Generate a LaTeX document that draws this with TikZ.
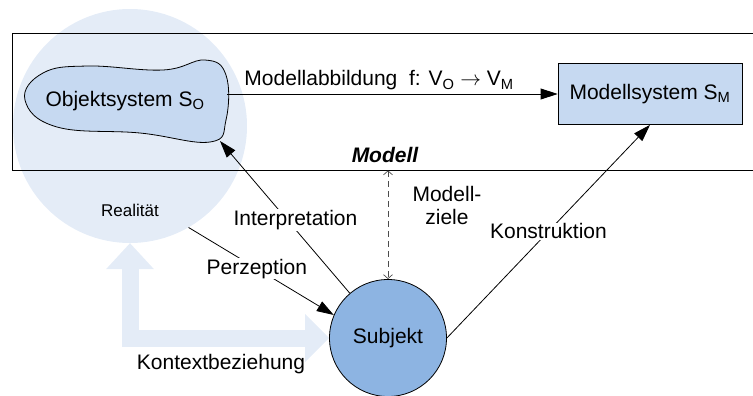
\documentclass[tikz,border=0pt]{standalone}
\usepackage{fontspec}
\setmainfont{Liberation Sans}
\usetikzlibrary{arrows.meta}
\definecolor{realblue}{RGB}{228,236,247}
\definecolor{sysblue}{RGB}{198,217,241}
\definecolor{subjblue}{RGB}{141,180,226}
\newcommand{\gross}{\fontsize{21}{23}\selectfont}

\begin{document}
\begin{tikzpicture}[x=1pt,y=-1pt,every node/.style={font=\gross},
  lbl/.style={fill=white,inner sep=1pt},
  pfeil/.style={-{Triangle[length=17pt,width=11pt]},line width=0.8pt}]
   \useasboundingbox (0,0) rectangle (753,396);
   \clip (0,0) rectangle (753,396);
   % Realitaet
   \node[circle,fill=realblue,minimum size=234pt,inner sep=0pt] (realitaet) at (130,126) {};
   \node[font=\fontsize{17}{20}\selectfont] (realtext) at (130,210) {Realität};
   % Modell
   \node[draw,line width=0.8pt,minimum width=750pt,minimum height=137pt,inner sep=0pt] (modell) at (387,101.5) {};
   \node[font=\gross\bfseries\itshape] (modelltext) at (385,155) {Modell};
   \node[circle,draw,fill=subjblue,line width=0.8pt,minimum size=117pt,inner sep=0pt] (subjekt) at (388,338) {Subjekt};
   % Kontextbeziehung
   \draw[realblue,line width=17pt,{Triangle[length=26pt,width=48pt,line width=0pt]}-{Triangle[length=24pt,width=48pt,line width=0pt]}] (realitaet.south) |- (subjekt.west);
   \node (kontext) at (221,364) {Kontextbeziehung};
   % Objektsystem
   \draw[fill=sysblue,line width=0.8pt] plot[smooth cycle,tension=0.7] coordinates {(25,100) (43,73) (88,66) (163,70) (205,60) (226,75) (226,120) (210,142) (140,133) (57,127)};
   \node (objekt) at (125,101) {Objektsystem S\textsubscript{O}};
   \coordinate (objekt-ost) at (227,94);
   \coordinate (objekt-sued) at (220,141);
   \node[draw,fill=sysblue,line width=0.8pt,minimum width=184pt,minimum height=61pt] (modellsys) at (650,94) {Modellsystem S\textsubscript{M}};
   % Pfeile
   \draw[pfeil] (objekt-ost) -- (modellsys.west) node[pos=0.46,above] {Modellabbildung\ \ f: V\textsubscript{O} $\rightarrow$ V\textsubscript{M}};
   \draw[pfeil] (subjekt) -- (objekt-sued) node[lbl,pos=0.48,xshift=8pt] {Interpretation};
   \draw[pfeil] (realitaet.-60) -- (subjekt.157) node[lbl,pos=0.47] {Perzeption};
   \draw[pfeil] (subjekt.east) -- (modellsys.south) node[lbl,pos=0.5] {Konstruktion};
   \draw[black!70,line width=0.7pt,dash pattern=on 6pt off 4pt,{Straight Barb[length=4pt,width=9pt]}-{Straight Barb[length=4pt,width=9pt]}] (modell.south -| subjekt) -- (subjekt.north);
   \node[align=center] (ziele) at (447,205) {Modell-\\ziele};
\end{tikzpicture}
\end{document}
